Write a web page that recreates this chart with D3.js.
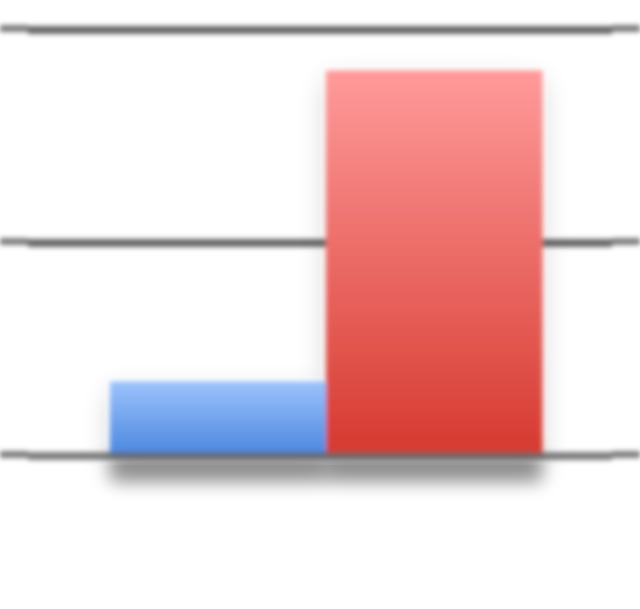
<!DOCTYPE html>
<html><head><meta charset="utf-8">
<script src="https://cdn.jsdelivr.net/npm/d3@7"></script>
<style>html,body{margin:0;padding:0;background:#fff;overflow:hidden}</style>
</head><body>
<script>
const categories = ["A", "B"];
const values = [0.35, 1.81];
const yTicks = [0, 1, 2];
const colorsTop = ["#9cc3fb", "#ff9a9a"];
const colorsBottom = ["#4a86df", "#d6392f"];

const W = 640, H = 609;
const svg = d3.select("body").append("svg").attr("width", W).attr("height", H);
const defs = svg.append("defs");
const blur = defs.append("filter").attr("id", "blur").attr("x", "-10%").attr("y", "-10%").attr("width", "120%").attr("height", "120%");
blur.append("feGaussianBlur").attr("stdDeviation", 2.6);
const sblur = defs.append("filter").attr("id", "sblur").attr("x", "-50%").attr("y", "-50%").attr("width", "200%").attr("height", "200%");
sblur.append("feGaussianBlur").attr("stdDeviation", 8);
const wblur = defs.append("filter").attr("id", "wblur").attr("x", "-50%").attr("y", "-50%").attr("width", "200%").attr("height", "200%");
wblur.append("feGaussianBlur").attr("stdDeviation", 14);

categories.forEach((c, i) => {
  const g = defs.append("linearGradient").attr("id", "grad" + i).attr("x1", 0).attr("y1", 0).attr("x2", 0).attr("y2", 1);
  g.append("stop").attr("offset", "0%").attr("stop-color", colorsTop[i]);
  g.append("stop").attr("offset", "100%").attr("stop-color", colorsBottom[i]);
});

const x = d3.scaleBand().domain(categories).range([110, 542]).paddingInner(0).paddingOuter(0);
const y = d3.scaleLinear().domain([0, 2]).range([456, 30]);

const root = svg.append("g").attr("filter", "url(#blur)");

// gridlines (non-baseline)
const gridG = root.append("g");
gridG.selectAll("line.grid").data(yTicks.filter(t => t !== 0)).join("line")
  .attr("x1", 28).attr("x2", 612)
  .attr("y1", d => y(d)).attr("y2", d => y(d))
  .attr("stroke", "#666").attr("stroke-width", 8);
gridG.selectAll("line.tickl").data(yTicks).join("line")
  .attr("x1", 0).attr("x2", 28)
  .attr("y1", d => y(d) - 1.5).attr("y2", d => y(d) - 1.5)
  .attr("stroke", "#7c7c7c").attr("stroke-width", 7);
gridG.selectAll("line.tickr").data(yTicks).join("line")
  .attr("x1", 612).attr("x2", 640)
  .attr("y1", d => y(d) - 1.5).attr("y2", d => y(d) - 1.5)
  .attr("stroke", "#7c7c7c").attr("stroke-width", 7);

// soft wide shadows around bars
const shadowG = root.append("g");
shadowG.selectAll("rect.wsh").data(categories).join("rect")
  .attr("x", d => x(d))
  .attr("width", x.bandwidth())
  .attr("y", (d, i) => y(values[i]) + 10)
  .attr("height", (d, i) => y(0) - y(values[i]) + 8)
  .attr("fill", "#1a3a3a").attr("opacity", 0.18)
  .attr("filter", "url(#wblur)");
// bottom shadow
shadowG.selectAll("rect.sh").data(categories).join("rect")
  .attr("x", d => x(d))
  .attr("width", x.bandwidth())
  .attr("y", y(0) - 4)
  .attr("height", 30)
  .attr("fill", "#000").attr("opacity", 0.36)
  .attr("filter", "url(#sblur)");

// bars
root.append("g").selectAll("rect.bar").data(categories).join("rect")
  .attr("x", d => x(d))
  .attr("width", x.bandwidth() + 0.5)
  .attr("y", (d, i) => y(values[i]))
  .attr("height", (d, i) => y(0) - y(values[i]))
  .attr("fill", (d, i) => `url(#grad${i})`);

// baseline on top
root.append("line")
  .attr("x1", 28).attr("x2", 612)
  .attr("y1", y(0)).attr("y2", y(0))
  .attr("stroke", "#666").attr("stroke-width", 8).attr("opacity", 0.85);
</script>
</body></html>
